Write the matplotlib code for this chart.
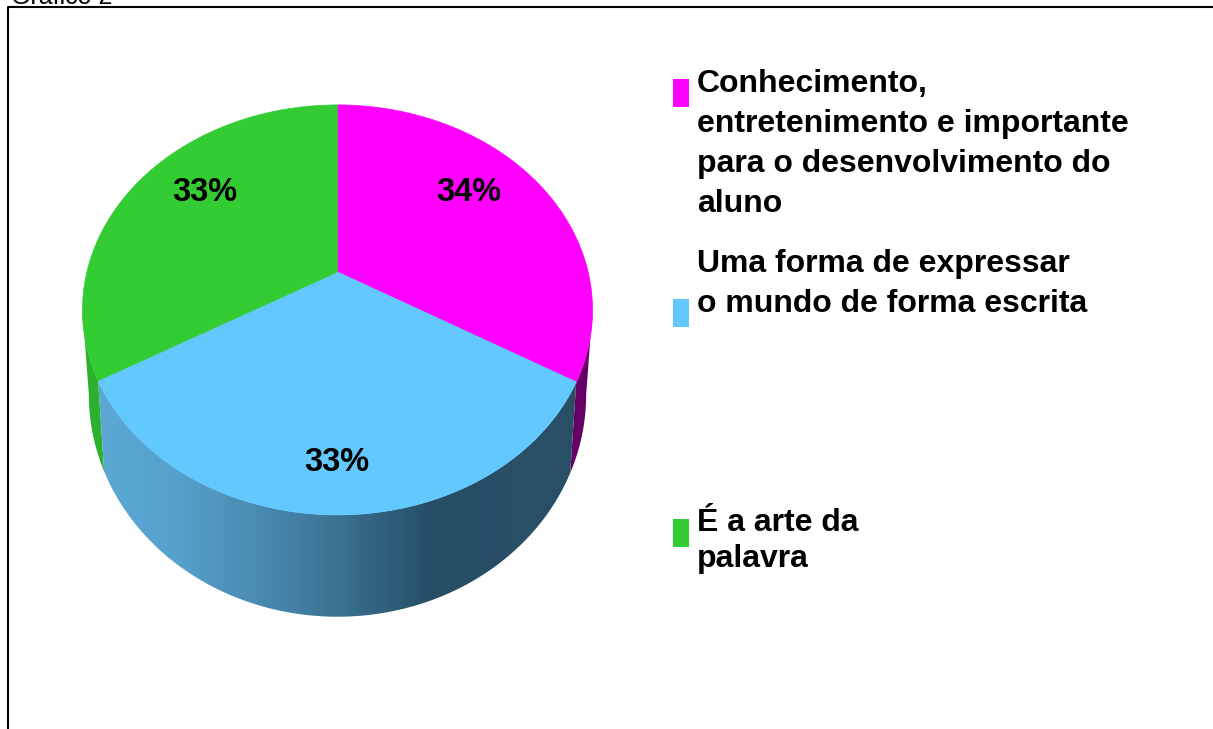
import numpy as np
import matplotlib
matplotlib.use("Agg")
import matplotlib.pyplot as plt
from matplotlib.colors import LinearSegmentedColormap
from matplotlib.patches import Polygon, Rectangle

## slice sizes, clockwise from 12 o'clock
values = [33.4, 33.3, 33.3]
pct_labels = ["34%", "33%", "33%"]
colors = ["#FF00FF", "#62C8FD", "#33CC33"]
side_colors = ["#660066", "#4a90b8", "#2DB02D"]
legend_labels = ["Conhecimento,\nentretenimento e importante\npara o desenvolvimento do\naluno",
                 "Uma forma de expressar\no mundo de forma escrita",
                 "É a arte da\npalavra"]
title = "Gráfico 2"

plt.rcParams["font.family"] = ["Liberation Sans", "DejaVu Sans"]

## the whole figure is one axes in pixels, y going down
fig = plt.figure(figsize=(12.13, 7.29), dpi=100)
ax = fig.add_axes([0, 0, 1, 1])
ax.set_xlim(0, 1213)
ax.set_ylim(729, 0)
ax.axis("off")

## perspective of the pie top: apex sits above the centre of the ellipse
cx, cy = 337.5, 310.0
k = 0.185


def top_xy(theta):
    t = np.radians(theta)
    x, y = np.sin(t), np.cos(t)
    w = 1 + k * y
    return cx + 250.6 * x / w, cy - (205 * y + 38) / w


def bottom_xy(theta):
    xt, yt = top_xy(theta)
    return cx + 0.975 * (xt - cx), cy + 85 + 1.082 * (yt - cy)


## slice edges in degrees
edges = np.cumsum([0] + values) / np.sum(values) * 360

## angle where the ellipse is widest, the side walls run up to there
widest = np.degrees(np.arccos(-k))

## back side walls first (purple right, green left)
th = np.linspace(widest, edges[1], 60)
xt, yt = top_xy(th)
xb, yb = bottom_xy(th)
ax.add_patch(Polygon(np.r_[np.c_[xt, yt], np.c_[xb, yb][::-1]], fc=side_colors[0], ec="none", zorder=1))

th = np.linspace(edges[2], 360 - widest, 60)
xt, yt = top_xy(th)
xb, yb = bottom_xy(th)
ax.add_patch(Polygon(np.r_[np.c_[xt, yt], np.c_[xb, yb][::-1]], fc=side_colors[2], ec="none", zorder=1))

## front wall with the horizontal shading
th = np.linspace(edges[1], edges[2], 200)
xt, yt = top_xy(th)
xb, yb = bottom_xy(th)
wall = Polygon(np.r_[np.c_[xt, yt], np.c_[xb, yb][::-1]], fc="none", ec="none", transform=ax.transData)
ax.add_patch(wall)
shade = LinearSegmentedColormap.from_list("wall", [(0, "#5CA8D4"), (0.17, "#55A0CC"), (0.42, "#437FA3"),
                                                   (0.7, "#264E65"), (1, "#2A5068")])
im = ax.imshow(np.linspace(0, 1, 480)[None, :], cmap=shade, extent=(97, 578, 640, 370), aspect="auto", zorder=2)
im.set_clip_path(wall)
ax.set_xlim(0, 1213)
ax.set_ylim(729, 0)

## top faces
apex = top_xy(0)[0], cy - 38
for i in range(3):
    th = np.linspace(edges[i], edges[i + 1], 120)
    xt, yt = top_xy(th)
    ax.add_patch(Polygon(np.r_[[apex], np.c_[xt, yt]], fc=colors[i], ec=colors[i], lw=0.5, zorder=3))

## percent labels
for lab, pos in zip(pct_labels, [(469, 192), (337, 462), (205, 192)]):
    ax.text(pos[0], pos[1], lab, fontsize=23.5, fontweight="bold", ha="center", va="center", zorder=4)

## legend
for lab, c, sq_y, txt_y, step in zip(legend_labels, colors, [79, 299, 519], [92, 272, 531], [40, 40, 36]):
    ax.add_patch(Rectangle((673, sq_y), 16, 28, fc=c, ec="none"))
    for n, line in enumerate(lab.split("\n")):
        ax.text(697, txt_y + n * step, line, fontsize=23, fontweight="bold", va="baseline")

## frame and the cut off caption
ax.plot([8, 8, 1213], [729, 7, 7], color="black", lw=1.5, zorder=5)
ax.text(11, 4, title, fontsize=18, va="baseline", clip_on=False)

fig.savefig("out.png", dpi=100)
